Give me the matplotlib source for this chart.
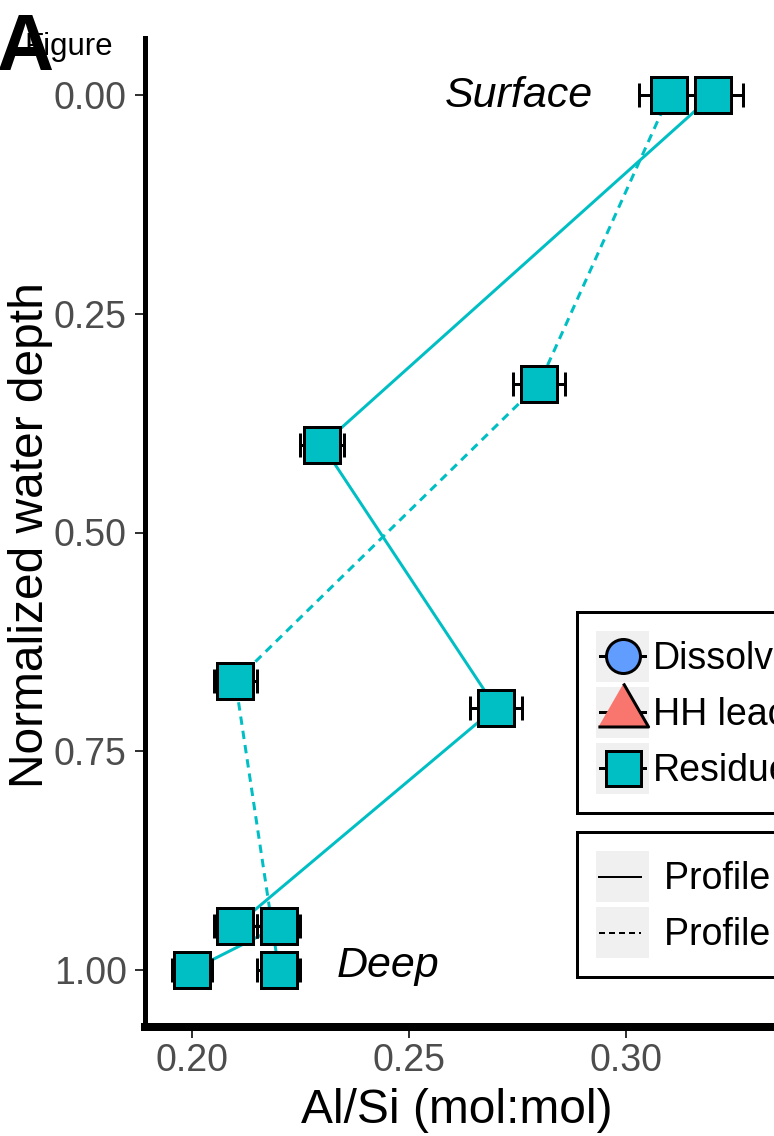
import matplotlib
matplotlib.use("Agg")
import matplotlib.pyplot as plt
from matplotlib.lines import Line2D
from matplotlib.patches import Rectangle
from matplotlib.legend_handler import HandlerBase

plt.rcParams['font.family'] = ['Liberation Sans', 'DejaVu Sans']

# ---------------- data ----------------
depth_p1 = [0.00, 0.40, 0.70, 0.95, 0.95, 1.00]
alsi_p1 = [0.32, 0.23, 0.27, 0.21, 0.22, 0.20]
err_p1 = [0.007, 0.005, 0.006, 0.005, 0.005, 0.0045]

depth_p2 = [0.00, 0.33, 0.67, 1.00]
alsi_p2 = [0.31, 0.28, 0.21, 0.22]
err_p2 = [0.007, 0.006, 0.005, 0.005]

x_ticks = [0.20, 0.25, 0.30]
y_ticks = [0.00, 0.25, 0.50, 0.75, 1.00]
type_labels = ["Dissolved", "HH leachate", "Residue"]
type_colors = ["#619CFF", "#F8766D", "#00BFC4"]
profile_labels = ["Profile 1", "Profile 2"]

TEAL = "#00BFC4"
W, H = 774, 1136
DPI = 100
PX = 72.0 / DPI  # points per pixel

fig = plt.figure(figsize=(W / DPI, H / DPI), dpi=DPI)

# axes placement in pixels (right edge extends beyond the image, as in the cropped reference)
ax_l, ax_r, ax_t, ax_b = 145, 1100, 38, 1027
ax = fig.add_axes([ax_l / W, 1 - ax_b / H, (ax_r - ax_l) / W, (ax_b - ax_t) / H])

x0px, xscale = 192.0, 4340.0   # pixel of 0.20, px per unit
y0px, yscale = 95.0, 875.0
ax.set_xlim(0.20 - (x0px - ax_l) / xscale, 0.20 + (ax_r - x0px) / xscale)
ax.set_ylim(0 + (ax_b - y0px) / yscale, 0 - (y0px - ax_t) / yscale)

# lines
ax.plot(alsi_p1, depth_p1, color=TEAL, lw=3 * PX, zorder=2, solid_capstyle='butt')
ax.plot(alsi_p2, depth_p2, color=TEAL, lw=3 * PX, zorder=2, linestyle=(0, (2.8, 2.0)))

# error bars + squares
for xs, ys, es in [(alsi_p1, depth_p1, err_p1), (alsi_p2, depth_p2, err_p2)]:
    ax.errorbar(xs, ys, xerr=es, fmt='none', ecolor='black', elinewidth=3 * PX,
                capsize=12 * PX, capthick=3 * PX, zorder=3)
    ax.plot(xs, ys, ls='none', marker='s', ms=36 * PX, mfc=TEAL, mec='black',
            mew=3 * PX, zorder=4)

# annotations
ax.text(0.20 + (593 - x0px) / xscale, (107 - y0px) / yscale, "Surface", ha='right',
        va='baseline', fontsize=31, fontstyle='italic', color='black', zorder=5)
ax.text(0.20 + (337 - x0px) / xscale, (977 - y0px) / yscale, "Deep", ha='left',
        va='baseline', fontsize=31, fontstyle='italic', color='black', zorder=5)

# axes styling
for s in ['top', 'right']:
    ax.spines[s].set_visible(False)
ax.spines['left'].set_linewidth(5 * PX)
ax.spines['bottom'].set_linewidth(8 * PX)
ax.set_xticks(x_ticks)
ax.set_xticklabels([f"{v:.2f}" for v in x_ticks])
ax.set_yticks(y_ticks)
ax.set_yticklabels([f"{v:.2f}" for v in y_ticks])
ax.tick_params(axis='both', colors='#333333', labelcolor='#4D4D4D', labelsize=27,
               width=2 * PX)
ax.tick_params(axis='x', length=11 * PX, pad=3.5)
ax.tick_params(axis='y', length=10 * PX, pad=6.0)

# axis titles (panel extends past the image edge, so place them directly)
fig.text(457 / W, 1 - 1123 / H, "Al/Si (mol:mol)", ha='center', va='baseline',
         fontsize=34.5, color='black')
fig.text(43 / W, 1 - 535 / H, "Normalized water depth", ha='center', va='baseline',
         rotation=90, rotation_mode='anchor', fontsize=34.5, color='black')

# panel tag and stray title
fig.text(113 / W, 1 - 55 / H, "Figure", ha='right', va='baseline', fontsize=22.5,
         color='black')
fig.text(-4 / W, 1 - 70 / H, "A", ha='left', va='baseline', fontsize=57,
         fontweight='bold', color='black')

# ---------------- legends ----------------
KEY_BG = "#F0F0F0"


class MarkerKey(HandlerBase):
    def __init__(self, marker, fc, ms):
        super().__init__()
        self.marker, self.fc, self.ms = marker, fc, ms

    def create_artists(self, legend, orig_handle, xdescent, ydescent, width, height,
                       fontsize, trans):
        bg = Rectangle((-xdescent, -ydescent), width, height, fc=KEY_BG, ec='none',
                       transform=trans)
        cy = -ydescent + height / 2
        ln = Line2D([-xdescent + 0.07 * width, -xdescent + 0.93 * width], [cy, cy],
                    color='black', lw=3 * PX, transform=trans)
        mk = Line2D([-xdescent + width / 2], [cy], ls='none', marker=self.marker,
                    ms=self.ms, mfc=self.fc, mec='black', mew=3 * PX, transform=trans)
        return [bg, ln, mk]


class LineKey(HandlerBase):
    def __init__(self, ls):
        super().__init__()
        self.ls = ls

    def create_artists(self, legend, orig_handle, xdescent, ydescent, width, height,
                       fontsize, trans):
        bg = Rectangle((-xdescent, -ydescent), width, height, fc=KEY_BG, ec='none',
                       transform=trans)
        cy = -ydescent + height / 2
        ln = Line2D([-xdescent + 0.05 * width, -xdescent + 0.85 * width], [cy, cy],
                    color='black', lw=2 * PX, linestyle=self.ls, transform=trans)
        return [bg, ln]


tri = [(-1, -0.577), (1, -0.577), (0, 1.155)]
h1 = [Line2D([], []) for _ in type_labels]
handler1 = {
    h1[0]: MarkerKey('o', type_colors[0], 34 * PX),
    h1[1]: MarkerKey(tri, type_colors[1], 58 * PX),
    h1[2]: MarkerKey('s', type_colors[2], 35 * PX),
}
FS = 27
fpx = FS / PX
key_h = 51 / fpx
hh = (key_h - 0.245) / 0.65   # matplotlib subtracts a heuristic descent from handleheight
common = dict(loc='upper left', bbox_transform=fig.transFigure, borderaxespad=0,
              fontsize=FS, handlelength=53 / fpx, handleheight=hh,
              labelspacing=5 / fpx, borderpad=19 / fpx, fancybox=False,
              framealpha=1, edgecolor='black')
leg1 = fig.legend(h1, type_labels, handler_map=handler1,
                  bbox_to_anchor=(577 / W, 1 - 612 / H), handletextpad=4 / fpx, **common)
leg1.get_frame().set_linewidth(3 * PX)

h2 = [Line2D([], []) for _ in profile_labels]
handler2 = {h2[0]: LineKey('-'), h2[1]: LineKey((0, (3, 2)))}
leg2 = fig.legend(h2, profile_labels, handler_map=handler2,
                  bbox_to_anchor=(577 / W, 1 - 832 / H), handletextpad=15 / fpx, **common)
leg2.get_frame().set_linewidth(3 * PX)

fig.savefig("out.png", dpi=DPI)
